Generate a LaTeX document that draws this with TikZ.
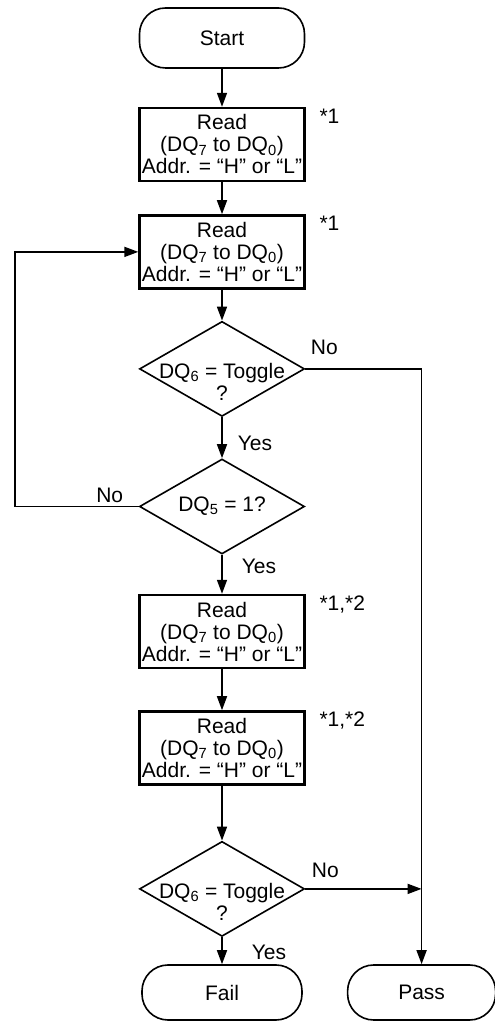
\documentclass[tikz,border=0pt]{standalone}
\usepackage{fontspec}
\setmainfont{Liberation Sans}
\usepackage{tikz}
\usetikzlibrary{shapes.geometric,arrows.meta,positioning,calc}
\newcommand{\dq}[1]{DQ\textsubscript{#1}}

\begin{document}
\begin{tikzpicture}[x=1pt, y=1pt, font=\fontsize{21}{22}\selectfont, line width=1.6pt,
  term/.style={draw, rounded corners=26pt, minimum width=165pt, minimum height=60pt},
  box/.style={draw, line width=2.4pt, align=center, minimum width=165pt, minimum height=73pt, inner sep=1pt},
  dec/.style={draw, diamond, minimum width=165pt, minimum height=95pt, inner sep=0pt},
  dtxt/.style={align=center, inner sep=0pt},
  lbl/.style={inner sep=1pt},
  arr/.style={-{Triangle[length=14pt, width=10pt]}}]
\useasboundingbox (0,0) rectangle (495,1023);
% main column
\node[term] (start) at (222,985) {Start};
\node[box, below=38pt of start] (rd1) {Read\\(\dq7 to \dq0)\\Addr. = “H” or “L”};
\node[box, below=32pt of rd1] (rd2) {Read\\(\dq7 to \dq0)\\Addr. = “H” or “L”};
\node[dec, below=31pt of rd2] (tg1) {};
\node[dtxt] (tg1t) at ([yshift=-13pt]tg1.center) {\dq6 = Toggle\\?};
\node[dec, below=41pt of tg1] (dq5) {};
\node[dtxt] (dq5t) at (dq5.center) {\dq5 = 1?};
\node[box, below=39pt of dq5] (rd3) {Read\\(\dq7 to \dq0)\\Addr. = “H” or “L”};
\node[box, below=41pt of rd3] (rd4) {Read\\(\dq7 to \dq0)\\Addr. = “H” or “L”};
\node[dec, below=55pt of rd4] (tg2) {};
\node[dtxt] (tg2t) at ([yshift=-13pt]tg2.center) {\dq6 = Toggle\\?};
\node[term, below=27pt of tg2, minimum width=160pt, minimum height=55pt] (fail) {Fail};
\node[term, right=44pt of fail, minimum width=148pt, minimum height=55pt] (pass) {Pass};
% notes
\node[lbl, anchor=north west] (nt1) at ([xshift=12pt]rd1.north east) {*1};
\node[lbl, anchor=north west] (nt2) at ([xshift=12pt]rd2.north east) {*1};
\node[lbl, anchor=north west] (nt3) at ([xshift=12pt]rd3.north east) {*1,*2};
\node[lbl, anchor=north west] (nt4) at ([xshift=12pt]rd4.north east) {*1,*2};
% branch labels
\node[lbl] (no1) at ([xshift=19pt, yshift=22pt]tg1.east) {No};
\node[lbl, anchor=west] (yes1) at ([xshift=14pt, yshift=-26pt]tg1.south) {Yes};
\node[lbl] (no2) at ([xshift=-29pt, yshift=11pt]dq5.west) {No};
\node[lbl, anchor=west] (yes2) at ([xshift=18pt, yshift=-12pt]dq5.south) {Yes};
\node[lbl] (no3) at ([xshift=20pt, yshift=19pt]tg2.east) {No};
\node[lbl, anchor=west] (yes3) at ([xshift=28pt, yshift=-15pt]tg2.south) {Yes};
\coordinate (loopx) at (15,0);
% connectors
\draw[arr] (start) -- (rd1);
\draw[arr] (rd1) -- (rd2);
\draw[arr] (rd2) -- (tg1);
\draw[arr] (tg1) -- (dq5);
\draw[arr] (dq5) -- (rd3);
\draw[arr] (rd3) -- (rd4);
\draw[arr] (rd4) -- (tg2);
\draw[arr] (tg2) -- (fail);
\draw[arr] (dq5.west) -- (dq5.west -| loopx) |- (rd2.west);
\draw[arr] (tg1.east) -| (pass.north);
\draw[arr] (tg2.east) -- (tg2.east -| pass.north);
\end{tikzpicture}
\end{document}
